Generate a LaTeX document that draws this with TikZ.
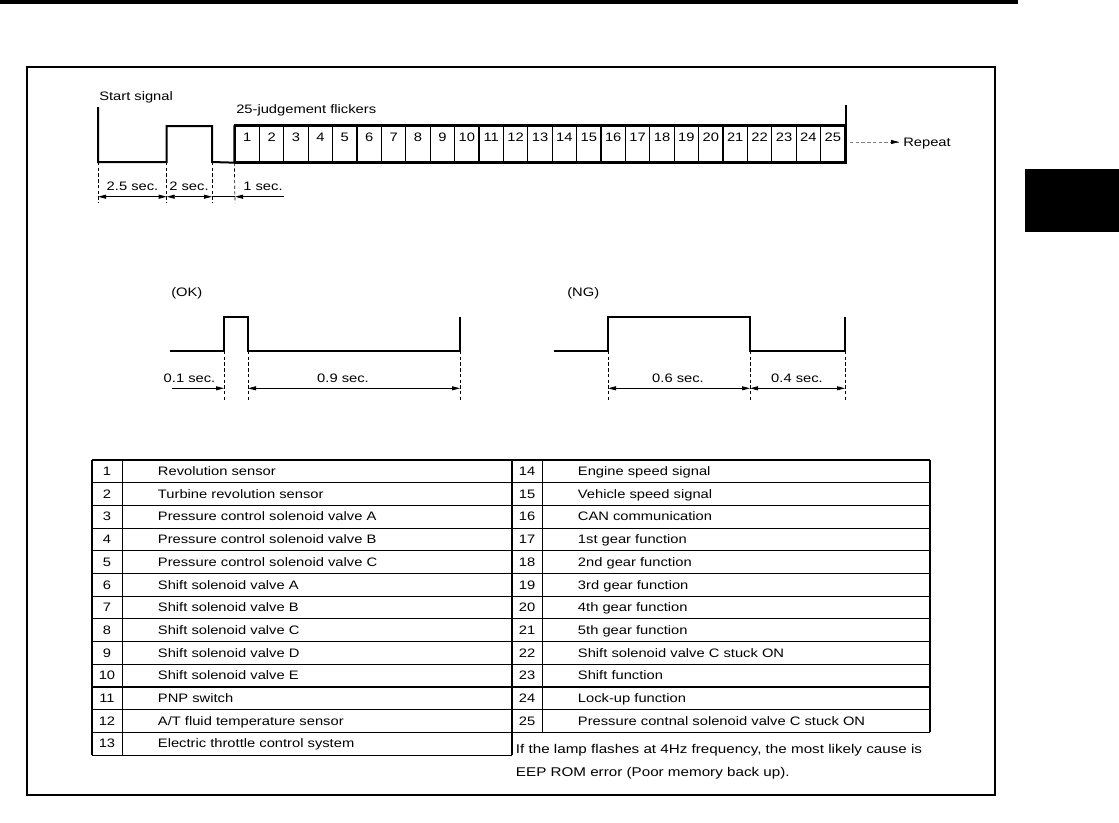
\documentclass[tikz,border=0pt]{standalone}
\usepackage{fontspec}
\setmainfont{Liberation Sans}[FakeStretch=1.2]
\usetikzlibrary{arrows.meta,calc}
\begin{document}
\begin{tikzpicture}[x=0.75pt,y=-0.75pt,
  wave/.style={line width=1.5pt, line join=miter},
  cell/.style={draw, line width=1pt, minimum width=18.3pt, minimum height=27pt, inner sep=0pt},
  guide/.style={line width=0.5pt, dash pattern=on 2.5pt off 1.8pt},
  dim/.style={line width=0.6pt},
  tipR/.style={-{Triangle[length=6pt,width=3pt]}},
  tipB/.style={{Triangle[length=6pt,width=3pt]}-{Triangle[length=6pt,width=3pt]}},
  lbl/.style={font=\fontsize{9.2pt}{11pt}\selectfont, inner sep=0pt},
  notelbl/.style={font=\fontsize{9.5pt}{11pt}\selectfont, inner sep=0pt},
  grid/.style={line width=0.8pt}]
\useasboundingbox (0,0) rectangle (1119,822);
% page decorations
\fill (0,0) rectangle (1018,4);
\draw[line width=1.5pt] (27,67) rectangle (995,795);
\fill (1025,169) rectangle (1119,232);

% ---------- top waveform ----------
\node[lbl, anchor=base west] (start) at (99,100.5) {Start signal};
\node[lbl, anchor=base west] (flick) at (236,113) {25-judgement flickers};
\foreach \i in {1,...,25}{
  \node[cell] (f\i) at ({235+24.4*(\i-0.5)},144) {};
  \node[lbl, anchor=base] (n\i) at ({235+24.4*(\i-0.5)},141.5) {\i};
}
\coordinate (a0) at (98,107);
\coordinate (a1) at (98,162);
\coordinate (a2) at (166.7,162);
\coordinate (a3) at (166.7,126);
\coordinate (a4) at (212,126);
\coordinate (a5) at (212,162);
\draw[wave] (a0) -- (a1) -- (a2) -- (a3) -- (a4) -- (a5) -- (f1.south west) -- (f1.north west);
\draw[wave] (f1.north west) -- (f25.north east) -- ++(0,-20);
\draw[wave] (f1.south west) -- (f25.south east) -- (f25.north east);

% guides
\coordinate (g1) at (98,203);
\coordinate (g2) at (166.7,203);
\coordinate (g3) at (212,203);
\coordinate (g4) at (235,203);
\draw[guide] (a1) -- (g1);
\draw[guide] (a2) -- (g2);
\draw[guide] (a5) -- (g3);
\draw[guide] (f1.south west) -- (g4);
% dimension arrows
\coordinate (d1) at (98,196.7);
\coordinate (d2) at (166.7,196.7);
\coordinate (d3) at (212,196.7);
\coordinate (d4) at (235,196.7);
\coordinate (d5) at (284,196.7);
\draw[dim,tipB] (d1) -- (d2);
\draw[dim,tipB] (d2) -- (d3);
\draw[dim] (d3) -- (d4);
\draw[dim,tipR] (d5) -- (d4);
\node[lbl, anchor=base] (t25) at (132.5,190.7) {2.5 sec.};
\node[lbl, anchor=base] (t2) at (189,190.7) {2 sec.};
\node[lbl, anchor=base] (t1) at (263,190.7) {1 sec.};

% repeat
\node[lbl, anchor=base west] (rep) at (903,146) {Repeat};
\coordinate (r0) at (850,142);
\coordinate (r1) at (899,142);
\draw[line width=0.6pt, gray, dash pattern=on 2.5pt off 1.8pt] (r0) -- (r1);
\draw[line width=0.6pt, -{Triangle[length=6pt,width=3pt]}] ($(r1)+(-8,0)$) -- (r1);

% ---------- OK ----------
\node[lbl, anchor=west] (ok) at (171,293) {(OK)};
\coordinate (o0) at (170,351);
\coordinate (o1) at (224,351);
\coordinate (o2) at (224,317);
\coordinate (o3) at (248,317);
\coordinate (o4) at (248,351);
\coordinate (o5) at (460,351);
\coordinate (o6) at (460,317);
\draw[wave] (o0) -- (o1) -- (o2) -- (o3) -- (o4) -- (o5) -- (o6);
\coordinate (og1) at (224,400);
\coordinate (og2) at (248,400);
\coordinate (og3) at (460,400);
\draw[guide] (o1) -- (og1);
\draw[guide] (o4) -- (og2);
\draw[guide] (o5) -- (og3);
\coordinate (od0) at (172,388.3);
\coordinate (od1) at (224,388.3);
\coordinate (od2) at (248,388.3);
\coordinate (od3) at (460,388.3);
\draw[dim,tipR] (od0) -- (od1);
\draw[dim,tipB] (od2) -- (od3);
\node[lbl, anchor=base] (ok1) at (189.5,382.5) {0.1 sec.};
\node[lbl, anchor=base] (ok9) at (343,382.5) {0.9 sec.};

% ---------- NG ----------
\node[lbl, anchor=west] (ng) at (567,293) {(NG)};
\coordinate (m0) at (554,351);
\coordinate (m1) at (608,351);
\coordinate (m2) at (608,317);
\coordinate (m3) at (750,317);
\coordinate (m4) at (750,351);
\coordinate (m5) at (845,351);
\coordinate (m6) at (845,317);
\draw[wave] (m0) -- (m1) -- (m2) -- (m3) -- (m4) -- (m5) -- (m6);
\coordinate (mg1) at (608,400);
\coordinate (mg2) at (750,400);
\coordinate (mg3) at (845,400);
\draw[guide] (m1) -- (mg1);
\draw[guide] (m4) -- (mg2);
\draw[guide] (m5) -- (mg3);
\coordinate (md1) at (608,388.3);
\coordinate (md2) at (750,388.3);
\coordinate (md3) at (845,388.3);
\draw[dim,tipB] (md1) -- (md2);
\draw[dim,tipB] (md2) -- (md3);
\node[lbl, anchor=base] (ng6) at (678,382.5) {0.6 sec.};
\node[lbl, anchor=base] (ng4) at (797,382.5) {0.4 sec.};

% ---------- table ----------
\foreach \k in {0,...,13}{
  \draw[grid] (92,{460+22.7*\k}) -- (512,{460+22.7*\k});
}
\foreach \k in {0,...,12}{
  \draw[grid] (512,{460+22.7*\k}) -- (930,{460+22.7*\k});
}
\draw[grid] (92,460) -- (92,755.1);
\draw[grid] (122.3,460) -- (122.3,755.1);
\draw[grid] (512,460) -- (512,755.1);
\draw[grid] (542.3,460) -- (542.3,732.4);
\draw[grid] (930,460) -- (930,732.4);

\foreach \t [count=\i] in {Revolution sensor,Turbine revolution sensor,Pressure control solenoid valve A,Pressure control solenoid valve B,Pressure control solenoid valve C,Shift solenoid valve A,Shift solenoid valve B,Shift solenoid valve C,Shift solenoid valve D,Shift solenoid valve E,PNP switch,A/T fluid temperature sensor,Electric throttle control system}{
  \node[lbl, anchor=base] (ln\i) at (107,{475.5+22.7*(\i-1)}) {\i};
  \node[lbl, anchor=base west] (lt\i) at (157.7,{475.5+22.7*(\i-1)}) {\t};
}
\foreach \t [count=\i] in {Engine speed signal,Vehicle speed signal,CAN communication,1st gear function,2nd gear function,3rd gear function,4th gear function,5th gear function,Shift solenoid valve C stuck ON,Shift function,Lock-up function,Pressure contnal solenoid valve C stuck ON}{
  \pgfmathtruncatemacro{\j}{\i+13}
  \node[lbl, anchor=base] (rn\i) at (527,{475.5+22.7*(\i-1)}) {\j};
  \node[lbl, anchor=base west] (rt\i) at (577.7,{475.5+22.7*(\i-1)}) {\t};
}
\node[notelbl, anchor=base west] (note1) at (515.7,753) {If the lamp flashes at 4Hz frequency, the most likely cause is};
\node[notelbl, anchor=base west] (note2) at (515.7,776) {EEP ROM error (Poor memory back up).};
\end{tikzpicture}
\end{document}
